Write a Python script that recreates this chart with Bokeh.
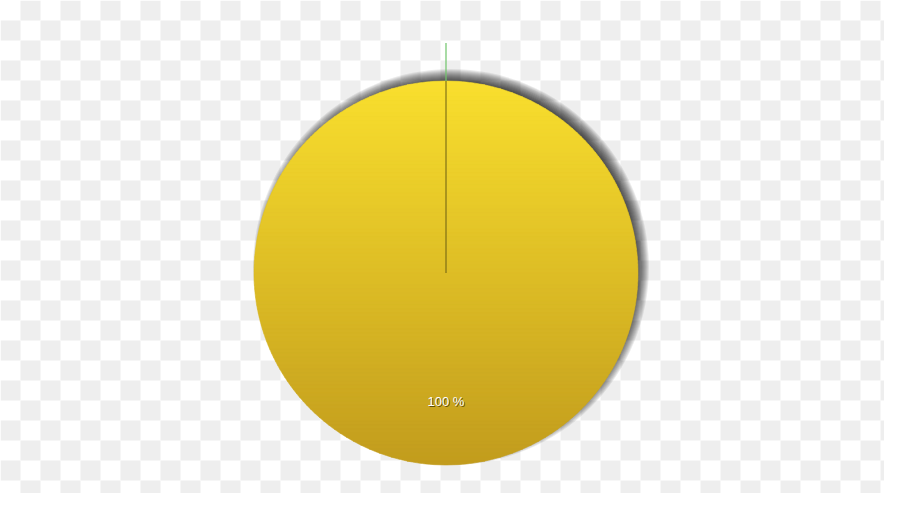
import numpy as np
from bokeh.plotting import figure
from bokeh.models import Range1d
from bokeh.core.properties import value
from bokeh.embed import file_html
from bokeh.resources import INLINE

# ---- data ----
slice_names = ["Series 1", "Series 2"]
slice_values = [100, 0]
slice_top_colors = ["#F9DF2E", "#6FC46A"]
slice_bottom_colors = ["#C29C1D", "#6FC46A"]
label_suffix = " %"

# ---- layout (pixels) ----
W, H = 884, 493
PAGE_OFF = 0
def dx(px):
    return px - PAGE_OFF
def dy(py):
    return (H + PAGE_OFF) - py

CX, CY = dx(445.5), dy(272.5)
R = 192.0
LEADER_EXT = 38.0

p = figure(width=W, height=H, output_backend="svg", toolbar_location=None,
           x_range=Range1d(0, W), y_range=Range1d(0, H), min_border=0)
p.axis.visible = False
p.grid.visible = False
p.outline_line_color = None
p.background_fill_color = "#FFFFFF"
p.border_fill_color = "#FFFFFF"

# ---- checkerboard background (transparency pattern) ----
SQ = 20
cxs, cys = [], []
for i in range(0, 46):
    for j in range(0, 26):
        if (i + j) % 2 == 1:
            cxs.append(dx(i * SQ + SQ / 2))
            cys.append(dy(j * SQ + SQ / 2))
p.rect(x=cxs, y=cys, width=SQ, height=SQ, fill_color="#EEEEEE", line_color=None)

# ---- shadow ----
SX, SY = CX + 5, CY + 6
for k in range(13):
    p.circle(x=[SX], y=[SY], radius=R - 6 + k, fill_color="#000000",
             fill_alpha=0.08, line_color=None)

# ---- pie slices ----
total = float(sum(slice_values))
start = np.pi / 2
def hex2rgb(h):
    h = h.lstrip("#")
    return np.array([int(h[i:i + 2], 16) for i in (0, 2, 4)], dtype=float)

for name, v, ct, cb in zip(slice_names, slice_values, slice_top_colors, slice_bottom_colors):
    frac = v / total
    sweep = 2 * np.pi * frac
    if frac >= 0.999:
        # full disc with vertical gradient made of horizontal bands
        N = 96
        top = hex2rgb(ct)
        bot = hex2rgb(cb)
        edges = np.linspace(CY + R, CY - R, N + 1)
        xs_list, ys_list, cols = [], [], []
        for b in range(N):
            y0, y1 = edges[b], edges[b + 1]
            yy = np.linspace(y0, y1, 12)
            half = np.sqrt(np.clip(R ** 2 - (yy - CY) ** 2, 0, None))
            xs = list(CX + half) + list((CX - half)[::-1])
            ys = list(yy) + list(yy[::-1])
            xs_list.append(xs)
            ys_list.append(ys)
            t = (b + 0.5) / N
            c = top * (1 - t) + bot * t
            cols.append("#%02x%02x%02x" % tuple(int(round(q)) for q in c))
        p.patches(xs=xs_list, ys=ys_list, fill_color=cols, line_color=cols, line_width=0.6)
        lx = CX
        ly = CY - 0.67 * R
        txt = "%d%s" % (round(frac * 100), label_suffix)
        p.text(x=[lx + 1], y=[ly - 1], text=[txt], text_color="#3a3000", text_alpha=0.75,
               text_font=value("Liberation Sans"), text_font_size="13px",
               text_align="center", text_baseline="middle")
        p.text(x=[lx], y=[ly], text=[txt], text_color="#FFFFFF",
               text_font=value("Liberation Sans"), text_font_size="13px",
               text_align="center", text_baseline="middle")
    elif frac <= 0.001:
        # zero-size slice: drawn as a leader line at its angle
        ex = CX + np.cos(start) * (R + LEADER_EXT)
        ey = CY + np.sin(start) * (R + LEADER_EXT)
        rx = CX + np.cos(start) * R
        ry = CY + np.sin(start) * R
        p.segment(x0=[rx], y0=[ry], x1=[ex], y1=[ey], line_color=ct, line_width=1.2)
        p.segment(x0=[CX], y0=[CY], x1=[rx], y1=[ry], line_color="#6B5F12", line_width=1)
    start -= sweep

open("out.html", "w").write(file_html(p, INLINE))
